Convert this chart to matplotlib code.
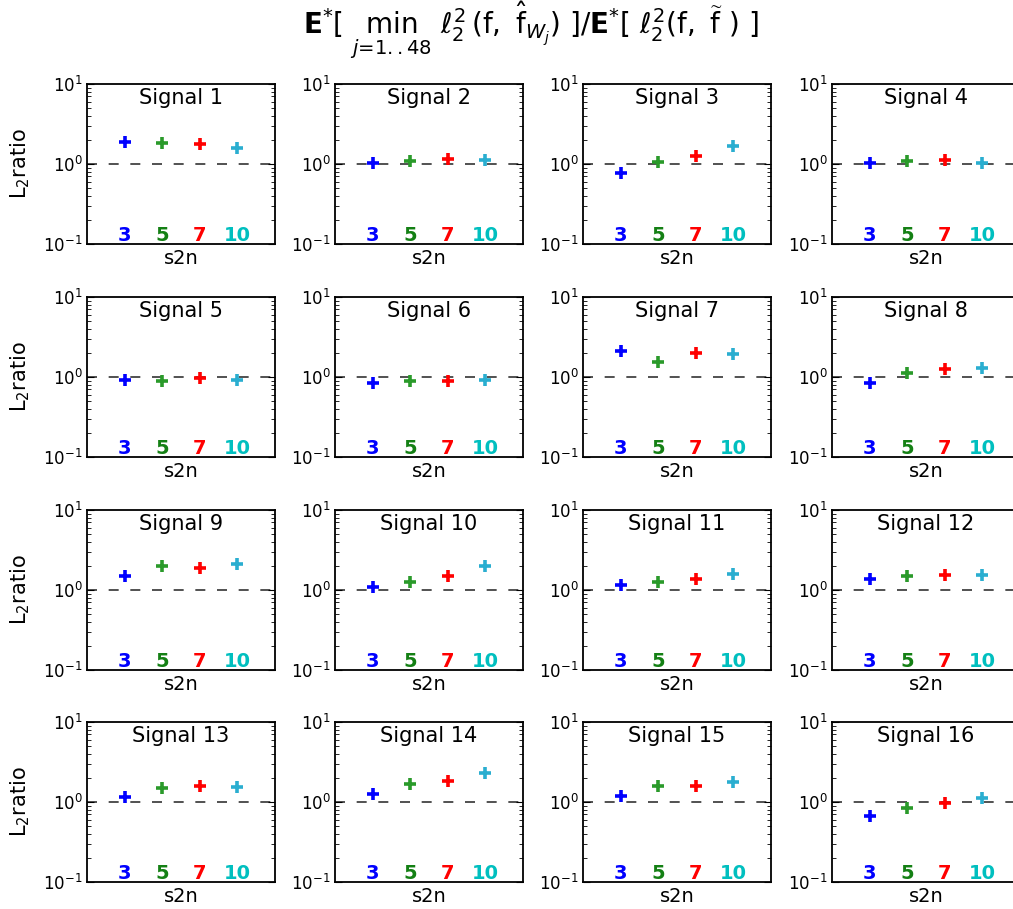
import numpy as np
import matplotlib
matplotlib.use('Agg')
import matplotlib.pyplot as plt
import matplotlib.transforms as mtransforms

# L2 ratio, one list per s2n level, signals 1..16
s2n = [3, 5, 7, 10]
ratio_s2n3 = [1.89, 1.04, 0.77, 1.03, 0.93, 0.85, 2.12, 0.85,
              1.48, 1.10, 1.14, 1.36, 1.15, 1.27, 1.19, 0.67]
ratio_s2n5 = [1.81, 1.10, 1.07, 1.10, 0.89, 0.90, 1.55, 1.13,
              2.02, 1.25, 1.25, 1.48, 1.49, 1.67, 1.58, 0.85]
ratio_s2n7 = [1.76, 1.16, 1.25, 1.12, 0.96, 0.90, 2.01, 1.25,
              1.86, 1.49, 1.36, 1.55, 1.58, 1.82, 1.58, 0.97]
ratio_s2n10 = [1.57, 1.12, 1.66, 1.02, 0.93, 0.92, 1.95, 1.31,
               2.14, 1.97, 1.57, 1.54, 1.54, 2.29, 1.79, 1.12]
signal_names = ['Signal %d' % (i + 1) for i in range(16)]

marker_colors = ['#0000ff', '#2a9a2a', '#ff0000', '#2aaed0']
label_colors = ['#0000ff', '#148014', '#ff0000', '#00bfbf']

plt.rcParams['font.family'] = ['DejaVu Sans']
plt.rcParams['mathtext.fontset'] = 'dejavusans'

W, H = 1013, 909
fig = plt.figure(figsize=(W / 100, H / 100), dpi=100)

col_left = [87, 335, 583, 832]
row_top = [84, 297, 510, 722]
ax_w, ax_h = 188, 160

all_ratios = [ratio_s2n3, ratio_s2n5, ratio_s2n7, ratio_s2n10]
xpos = np.arange(1, len(s2n) + 1)

for k in range(16):
    r, c = divmod(k, 4)
    # last column runs past the right edge, as in the reference
    w = ax_w + (6 if c == 3 else 0)
    ax = fig.add_axes([col_left[c] / W, 1 - (row_top[r] + ax_h) / H,
                       w / W, ax_h / H])
    ax.set_yscale('log')
    ax.set_ylim(0.1, 10)
    ax.set_xlim(0, 5 * w / ax_w)
    ax.set_xticks([])
    ax.axhline(1, color='#333333', lw=1.2, ls=(0, (6, 7)), zorder=1)
    for j in range(len(s2n)):
        ax.plot(xpos[j], all_ratios[j][k], marker='+', ms=9, mew=2.6,
                color=marker_colors[j], ls='none', zorder=3)
    trans = mtransforms.blended_transform_factory(ax.transData, ax.transAxes)
    for j, s in enumerate(s2n):
        ax.text(xpos[j], 0.055, str(s), transform=trans, ha='center',
                va='center', fontsize=14, fontweight='heavy',
                color=label_colors[j])
    ax.text(2.5, 0.915, signal_names[k], transform=trans,
            ha='center', va='center', fontsize=15)
    ax.set_xlabel('s2n', fontsize=14, labelpad=3)
    ax.xaxis.set_label_coords(0.5 * ax_w / w, -0.03, transform=ax.transAxes)
    ax.xaxis.label.set_va('top')
    if c == 0:
        ax.set_ylabel(r'L$_2$ratio', fontsize=15, labelpad=8)
    ax.tick_params(axis='y', which='both', direction='in', right=True,
                   labelsize=12, pad=3)
    ax.tick_params(axis='y', which='major', length=5)
    ax.tick_params(axis='y', which='minor', length=3)
    for sp in ax.spines.values():
        sp.set_linewidth(1.3)

fig.text(531 / W, 1 - 30 / H,
         r'$\mathbf{E}^{*}[\ \min_{j=1..48}\ \ell_2^2(\mathrm{f},\ \hat{\mathrm{f}}_{W_j})\ ]'
         r'/\mathbf{E}^{*}[\ \ell_2^2(\mathrm{f},\ \widetilde{\mathrm{f}}\ )\ ]$',
         ha='center', va='center', fontsize=20)

fig.savefig('out.png', dpi=100)
